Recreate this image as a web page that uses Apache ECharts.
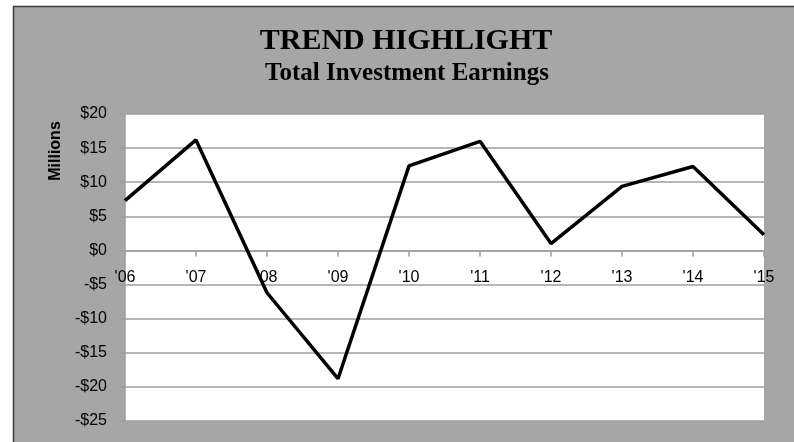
<!DOCTYPE html>
<html><head><meta charset="utf-8">
<script src="https://cdn.jsdelivr.net/npm/echarts@6/dist/echarts.min.js"></script>
<style>html,body{margin:0;padding:0;background:#fff}#c{width:794px;height:442px}</style>
</head><body><div id="c"></div>
<script>
const categories = ["'06","'07","'08","'09","'10","'11","'12","'13","'14","'15"];
const earnings = [7.3, 16.2, -6.2, -18.8, 12.4, 16.0, 1.0, 9.4, 12.3, 2.3];
const yTicks = {min: -25, max: 20, interval: 5};
const titleText = 'TREND HIGHLIGHT';
const subtitleText = 'Total Investment Earnings';
const yName = 'Millions';

const chart = echarts.init(document.getElementById('c'), null, {renderer: 'canvas'});
const gray = '#a6a6a6';
const gridLine = '#9e9e9e';
const tickFont = {color: '#000', fontFamily: 'Liberation Sans', fontSize: 16};
chart.setOption({
  backgroundColor: '#ffffff',
  animation: false,
  graphic: [
    {type: 'rect', z: -10, shape: {x: 13.5, y: 6.5, width: 800, height: 460},
     style: {fill: gray, stroke: '#3a3a3a', lineWidth: 1.5}},
    {type: 'text', x: 406, y: 41, z: 10,
     style: {text: titleText, font: 'bold 30px "Liberation Serif"', fill: '#000', textAlign: 'center', textVerticalAlign: 'middle'}},
    {type: 'text', x: 407, y: 74, z: 10,
     style: {text: subtitleText, font: 'bold 25px "Liberation Serif"', fill: '#000', textAlign: 'center', textVerticalAlign: 'middle'}},
    {type: 'text', x: 56, y: 151, rotation: Math.PI / 2, z: 10,
     style: {text: yName, font: 'bold 16px "Liberation Sans"', fill: '#000', textAlign: 'center', textVerticalAlign: 'middle'}}
  ],
  grid: {left: 125, right: 30, top: 114, bottom: 21, show: true, backgroundColor: '#ffffff', borderWidth: 0},
  xAxis: [{
    type: 'category', data: categories, boundaryGap: false,
    axisLine: {show: true, onZero: true, lineStyle: {color: gridLine, width: 1.5}},
    axisTick: {show: true, length: 6, lineStyle: {color: gridLine, width: 1.5}},
    axisLabel: {show: false},
    splitLine: {show: false}
  }, {
    type: 'category', data: categories, boundaryGap: false, position: 'bottom', offset: 0,
    axisLine: {show: false, onZero: false},
    axisTick: {show: false},
    axisLabel: Object.assign({margin: 14, interval: 0}, tickFont),
    splitLine: {show: false}
  }],
  yAxis: {
    type: 'value', min: yTicks.min, max: yTicks.max, interval: yTicks.interval,
    axisLine: {show: true, lineStyle: {color: gridLine, width: 1.5}},
    axisTick: {show: true, length: 6, lineStyle: {color: gridLine, width: 1.5}},
    axisLabel: Object.assign({margin: 18,
      formatter: v => (v < 0 ? '-$' + Math.abs(v) : '$' + v)}, tickFont),
    splitLine: {show: true, lineStyle: {color: gridLine, width: 1.5}}
  },
  series: [{
    type: 'line', data: earnings, symbol: 'none', xAxisIndex: 0,
    lineStyle: {color: '#000', width: 3.5}, z: 5
  }]
});
const zeroY = chart.convertToPixel({yAxisIndex: 0}, 0);
const bottomY = chart.convertToPixel({yAxisIndex: 0}, yTicks.min);
chart.setOption({xAxis: [{}, {offset: -(bottomY - zeroY)}]});
</script></body></html>
